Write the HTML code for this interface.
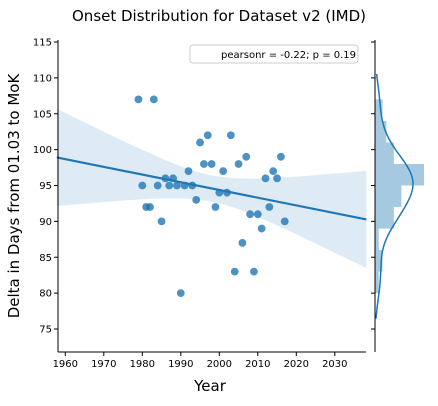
<!DOCTYPE html>
<html><head><meta charset="utf-8"><style>
body{margin:0;background:#fff;font-family:"Liberation Sans","DejaVu Sans",sans-serif}
svg text{font-family:"DejaVu Sans","Liberation Sans",sans-serif}
</style></head><body>
<svg id="c" width="438" height="401" viewBox="0 0 438 401" xmlns="http://www.w3.org/2000/svg">
<text x="219" y="21" text-anchor="middle" font-size="15" fill="#000">Onset Distribution for Dataset v2 (IMD)</text>
<text x="210" y="391" text-anchor="middle" font-size="15" fill="#000">Year</text>
<text transform="translate(19,196) rotate(-90)" text-anchor="middle" font-size="15" fill="#000">Delta in Days from 01.03 to MoK</text>
<g id="band"></g><g id="line"></g><g id="pts"></g><g id="marg"></g><g id="axes"></g>
<g>
<rect x="190" y="45" width="168" height="18" rx="3" fill="#fff" fill-opacity="0.8" stroke="#ccc" stroke-width="1"/>
<text x="221" y="58" font-size="10" fill="#000">pearsonr = -0.22; p = 0.19</text>
</g>
</svg>
<script>
const years=[1979,1983,1980,1984,1981,1982,1985,1986,1987,1988,1989,1990,1991,1992,1993,1994,1995,1997,1996,1998,1999,2000,2001,2002,2003,2004,2005,2006,2007,2008,2009,2010,2011,2012,2013,2014,2015,2016,2017];
const deltas=[107,107,95,95,92,92,90,96,95,96,95,80,95,97,95,93,101,102,98,98,92,94,97,94,102,83,98,87,99,91,83,91,89,96,92,97,96,99,90];
const xTicks=[1960,1970,1980,1990,2000,2010,2020,2030];
const yTicks=[75,80,85,90,95,100,105,110,115];
const binEdges=[80,83,86,89,92,95,98,101,104,107];
const NS="http://www.w3.org/2000/svg";
const L=58,R=366,T=40,B=352,MX=375;
const X=v=>65.3+(v-1960)*3.85;
const Y=v=>42+(115-v)*7.175;
const xmin=1957.8,xmax=2038.2;
function mk(t,a,p){const e=document.createElementNS(NS,t);for(const k in a)e.setAttribute(k,a[k]);(p||document.getElementById('c')).appendChild(e);return e;}
const n=years.length,mx=years.reduce((a,b)=>a+b)/n,my=deltas.reduce((a,b)=>a+b)/n;
let sxx=0,sxy=0;for(let i=0;i<n;i++){sxx+=(years[i]-mx)**2;sxy+=(years[i]-mx)*(deltas[i]-my);}
const b1=sxy/sxx,b0=my-b1*mx;let sse=0;for(let i=0;i<n;i++)sse+=(deltas[i]-b0-b1*years[i])**2;
const s=Math.sqrt(sse/(n-2));
let up=[],lo=[];for(let k=0;k<=50;k++){const x=xmin+(xmax-xmin)*k/50;const yh=b0+b1*x;const se=2.03*s*Math.sqrt(1/n+(x-mx)**2/sxx);up.push(X(x)+','+Y(yh+se));lo.unshift(X(x)+','+Y(yh-se));}
const band=mk('polygon',{points:up.concat(lo).join(' '),fill:'#1f77b4','fill-opacity':0.15},document.getElementById('band'));


const ln=mk('line',{x1:X(xmin),y1:Y(b0+b1*xmin),x2:X(xmax),y2:Y(b0+b1*xmax),stroke:'#1f77b4','stroke-width':2.2},document.getElementById('line'));


for(let i=0;i<n;i++){const c=mk('circle',{cx:X(years[i]),cy:Y(deltas[i]),r:3.9,fill:'#1f77b4','fill-opacity':0.8},document.getElementById('pts'));

}
const counts=binEdges.slice(0,-1).map((e,i)=>deltas.filter(d=>d>=e&&(i==binEdges.length-2?d<=binEdges[i+1]:d<binEdges[i+1])).length);
const maxc=Math.max(...counts);const g=document.getElementById('marg');
counts.forEach((c,i)=>{const r=mk('rect',{x:MX,y:Y(binEdges[i+1]),width:c/maxc*49,height:Y(binEdges[i])-Y(binEdges[i+1]),fill:'#1f77b4','fill-opacity':0.4},g);

});
const sd=Math.sqrt(deltas.reduce((a,d)=>a+(d-my)**2,0)/(n-1)),h=sd*Math.pow(n,-0.2);
const dmin=Math.min(...deltas)-1.3*h,dmax=Math.max(...deltas)+1.3*h;
const kd=[];for(let k=0;k<=120;k++){const v=dmin+(dmax-dmin)*k/120;let d=0;for(const q of deltas)d+=Math.exp(-0.5*((v-q)/h)**2);kd.push([v,d]);}
const kmax=Math.max(...kd.map(p=>p[1]));
const kp=mk('polyline',{points:kd.map(p=>(MX+p[1]/kmax*38)+','+Y(p[0])).join(' '),fill:'none',stroke:'#1f77b4','stroke-width':1.5},g);


const ax=document.getElementById('axes');
mk('line',{x1:L,y1:T,x2:L,y2:B,stroke:'#000','stroke-width':1},ax);
mk('line',{x1:L,y1:B,x2:R,y2:B,stroke:'#000','stroke-width':1},ax);
mk('line',{x1:MX,y1:T,x2:MX,y2:B,stroke:'#000','stroke-width':1},ax);
xTicks.forEach(t=>{mk('line',{x1:X(t),y1:B,x2:X(t),y2:B+4,stroke:'#000'},ax);const tx=mk('text',{x:X(t),y:B+15,'text-anchor':'middle','font-size':10},ax);tx.textContent=t;

});
yTicks.forEach(t=>{mk('line',{x1:L-4,y1:Y(t),x2:L,y2:Y(t),stroke:'#000'},ax);mk('line',{x1:MX-4,y1:Y(t),x2:MX,y2:Y(t),stroke:'#000'},ax);const tx=mk('text',{x:L-6,y:Y(t)+3.5,'text-anchor':'end','font-size':10},ax);tx.textContent=t;

});
</script>
</body></html>
